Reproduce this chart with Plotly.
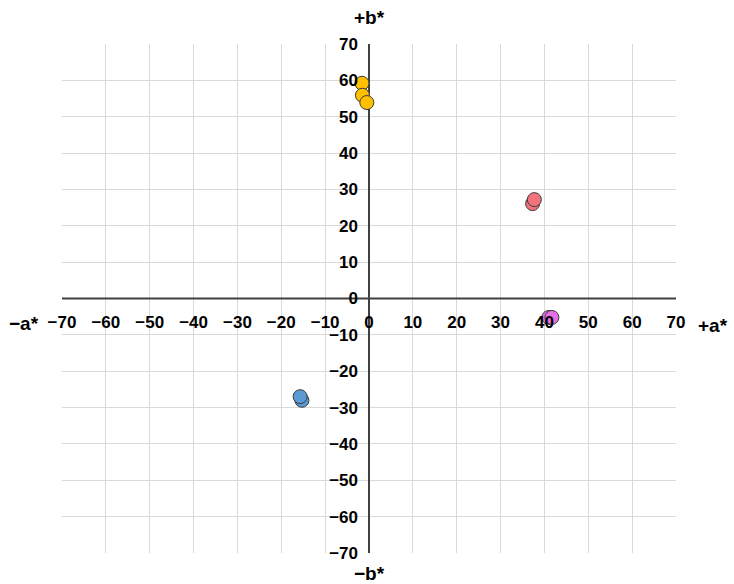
import plotly.graph_objects as go

# CIELAB a*/b* coordinates of the measured samples, grouped by colour
yellow_a = [-1.6, -1.5, -0.5]
yellow_b = [59.2, 55.9, 53.9]
red_a = [37.3, 37.7]
red_b = [26.1, 27.2]
magenta_a = [41.0, 41.7]
magenta_b = [-5.2, -5.2]
blue_a = [-15.3, -15.7]
blue_b = [-28.0, -27.0]

tick_vals = list(range(-70, 71, 10))

series = [
    (yellow_a, yellow_b, "#FFC000"),
    (red_a, red_b, "#F2737B"),
    (magenta_a, magenta_b, "#E56FE3"),
    (blue_a, blue_b, "#5B9BD5"),
]

fig = go.Figure()
for a, b, col in series:
    fig.add_trace(go.Scatter(
        x=a, y=b, mode="markers",
        marker=dict(size=14, color=col, line=dict(color="#3a3a3a", width=1)),
        showlegend=False, cliponaxis=False,
    ))

tick_font = dict(family="Liberation Sans, Arial, sans-serif", size=17, color="#000000", weight="bold")

fig.update_layout(
    width=734, height=584,
    margin=dict(l=62, r=58, t=44, b=31),
    paper_bgcolor="white", plot_bgcolor="white",
    xaxis=dict(
        range=[-70, 70], tickvals=tick_vals, showgrid=True,
        gridcolor="#D9D9D9", gridwidth=1,
        zeroline=False, showline=False,
        anchor="free", position=0.5,
        ticks="", ticklabelstandoff=11,
        tickfont=tick_font,
    ),
    yaxis=dict(
        range=[-70, 70], tickvals=tick_vals, showgrid=True,
        gridcolor="#D9D9D9", gridwidth=1,
        zeroline=False, showline=False,
        anchor="free", position=0.5,
        ticks="", ticklabelstandoff=11,
        tickfont=tick_font,
    ),
)

# axes crossing at the origin
fig.add_shape(type="line", xref="x", yref="y", x0=-70, x1=70, y0=0, y1=0,
              line=dict(color="#404040", width=2), layer="between")
fig.add_shape(type="line", xref="x", yref="y", x0=0, x1=0, y0=-70, y1=70,
              line=dict(color="#404040", width=2), layer="between")

axis_font = dict(family="Liberation Sans, Arial, sans-serif", size=19, color="#000000", weight="bold")
fig.add_annotation(text="\u2212a*", xref="paper", yref="y", x=-0.034, y=0, yshift=-25,
                   xanchor="right", showarrow=False, font=axis_font)
fig.add_annotation(text="+a*", xref="paper", yref="y", x=1.088, y=0, yshift=-27,
                   xanchor="right", showarrow=False, font=axis_font)
fig.add_annotation(text="+b*", xref="x", yref="paper", x=0, y=1, yshift=27,
                   yanchor="middle", showarrow=False, font=axis_font)
fig.add_annotation(text="\u2212b*", xref="x", yref="paper", x=0, y=0, yshift=-20,
                   yanchor="middle", showarrow=False, font=axis_font)

fig.write_html("out.html")
